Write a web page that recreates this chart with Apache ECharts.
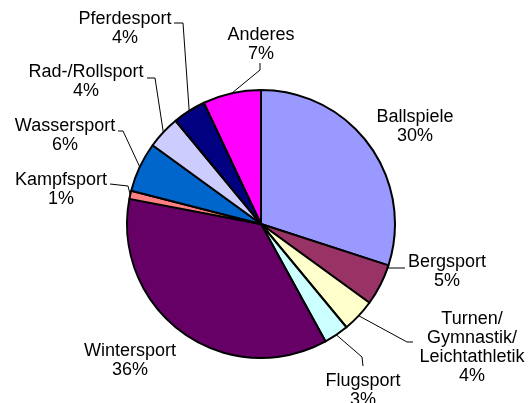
<!DOCTYPE html>
<html>
<head>
<meta charset="utf-8">
<script src="https://cdn.jsdelivr.net/npm/echarts@6/dist/echarts.min.js"></script>
<style>
html,body{margin:0;padding:0;background:#fff;}
#chart{width:532px;height:403px;}
</style>
</head>
<body>
<div id="chart"></div>
<script>
// Daten
var categories = ['Ballspiele','Bergsport','Turnen/\nGymnastik/\nLeichtathletik','Flugsport','Wintersport','Kampfsport','Wassersport','Rad-/Rollsport','Pferdesport','Anderes'];
var values = [30,5,4,3,36,1,6,4,4,7];
var colors = ['#9999ff','#993366','#ffffcc','#ccffff','#660066','#ff8080','#0066cc','#ccccff','#000080','#ff00ff'];

// Beschriftung: Textmitte und Knickpunkte der Linie
var labelPos = [[415,127],[447,272],[472,348],[363,391],[130,361],[61,190],[65,136],[86,82],[125,29],[261,45]];
var linePts = [null,[[388,268],[405,268]],[[407,342],[413,342]],[[362,357],[363,366]],null,[[128,186],[110,184]],[[123,131],[118,131]],[[155,78],[147,78]],[[183,23],[174,23]],[[260,70],[260,63]]];

var _data = [];
for(var i=0;i<categories.length;i++){
	_data.push({
		name: categories[i],
		value: values[i],
		itemStyle:{color:colors[i]},
		labelLine:{show: linePts[i]!=null}
	});
}

var myChart = echarts.init(document.getElementById('chart'));
var option = {
	animation:false,
	series:[{
		type:'pie',
		center:[261,224],
		radius:134,
		startAngle:90,
		clockwise:true,
		avoidLabelOverlap:false,
		itemStyle:{borderColor:'#000',borderWidth:2},
		label:{
			show:true,
			position:'outside',
			color:'#000',
			fontFamily:'Liberation Sans, Arial, sans-serif',
			fontSize:18,
			lineHeight:19,
			align:'center',
			formatter:function(p){ return p.name + '\n' + p.value + '%'; }
		},
		labelLine:{show:true,lineStyle:{color:'#000',width:1},smooth:false},
		labelLayout:function(params){
			var i = params.dataIndex;
			var res = {x:labelPos[i][0], y:labelPos[i][1], align:'center', verticalAlign:'middle'};
			if(linePts[i] && params.labelLinePoints){
				res.labelLinePoints = [params.labelLinePoints[0], linePts[i][0], linePts[i][1]];
			}
			return res;
		},
		emphasis:{disabled:true},
		data:_data
	}]
};
myChart.setOption(option);
</script>
</body>
</html>
